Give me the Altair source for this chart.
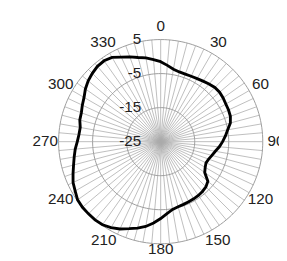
import altair as alt
import numpy as np
import pandas as pd

# ---- data ----
angles = list(range(0, 360, 5))
gain_db = [
    -1.5, -2.5, -3.4, -3.8, -3.9, -3.8, -3.6, -3.3, -2.9, -2.5, -2.4, -2.6,   # 0..55
    -2.9, -3.0, -3.2, -3.8, -5.0, -5.9, -6.8, -7.7, -8.7, -9.4, -10.0, -10.3,  # 60..115
    -9.9, -9.2, -6.9, -6.2, -5.9, -5.7, -5.6, -5.5, -5.4, -5.2, -4.8, -3.8,    # 120..175
    -2.4, -1.0, 0.3, 1.3, 2.2, 3.3, 4.2, 4.8, 5.0, 5.0, 5.0, 4.8,              # 180..235
    4.0, 3.4, 2.4, 1.5, 0.8, 0.2, -0.5, -0.9, -1.0, -0.4, -0.2, 0.4,           # 240..295
    1.0, 2.0, 2.8, 3.4, 3.9, 4.0, 3.6, 2.4, 1.5, 0.6, 0.0, -0.8,               # 300..355
]
ring_values = [-15, -5, 5]
radial_tick_values = [5, -5, -15, -25]
radial_tick_labels = ["5", "-5", "-15", "-25"]
angle_tick_values = list(range(0, 360, 30))
angle_tick_labels = [str(a) for a in angle_tick_values]
spoke_angles = list(range(0, 360, 5))

R_MIN, R_MAX = -25, 5

# ---- layout constants ----
W, H = 284, 253
CX, CY, U = 160, 134, 107
xdom = [-CX / U, (W - CX) / U]
ydom = [-(H - CY) / U, CY / U]
xs = alt.Scale(domain=xdom, nice=False, zero=False)
ys = alt.Scale(domain=ydom, nice=False, zero=False)
FONT = "Liberation Sans"

norm = f"(datum.v - ({R_MIN})) / ({R_MAX} - ({R_MIN}))"
xcalc = "datum.r * sin(datum.a * PI / 180)"
ycalc = "datum.r * cos(datum.a * PI / 180)"


def polar(chart):
    return chart.transform_calculate(r=norm).transform_calculate(x=xcalc, y=ycalc)


X = alt.X("x:Q", scale=xs, axis=None)
Y = alt.Y("y:Q", scale=ys, axis=None)

# spokes
spoke_df = pd.DataFrame(
    [(a, v) for a in spoke_angles for v in (R_MIN, R_MAX)], columns=["a", "v"]
)
spokes = polar(alt.Chart(spoke_df)).mark_line(color="#ababab", strokeWidth=0.8).encode(
    x=X, y=Y, detail="a:N", order="v:Q"
)

# rings
ring_df = pd.DataFrame(
    [(rv, t) for rv in ring_values for t in np.arange(0, 361, 2)], columns=["v", "a"]
)
rings = polar(alt.Chart(ring_df)).mark_line(color="#999999", strokeWidth=1).encode(
    x=X, y=Y, detail="v:N", order="a:Q"
)

# data curve
curve_df = pd.DataFrame({"a": angles, "v": gain_db})
curve = polar(alt.Chart(curve_df)).mark_line(
    color="black", strokeWidth=3, interpolate="linear-closed"
).encode(x=X, y=Y, order="a:Q")

# angle labels
alab_df = pd.DataFrame({"a": angle_tick_values, "label": angle_tick_labels})
alabels = alt.Chart(alab_df).transform_calculate(
    r="1.13 - 0.075 * pow(max(0, -cos(datum.a * PI / 180)), 12)"
).transform_calculate(x=xcalc, y=ycalc).mark_text(
    font=FONT, fontSize=16, color="#222", align="center", baseline="middle"
).encode(x=X, y=Y, text="label:N")

# radial labels
rlab_df = pd.DataFrame({"v": radial_tick_values, "label": radial_tick_labels})
rlabels = alt.Chart(rlab_df).transform_calculate(r=norm).transform_calculate(
    x="-0.19", y="datum.r"
).mark_text(font=FONT, fontSize=16, color="#222", align="right", baseline="middle").encode(
    x=X, y=Y, text="label:N"
)

chart = (
    alt.layer(spokes, rings, curve, alabels, rlabels)
    .properties(width=W, height=H, padding=0, autosize=alt.AutoSizeParams(type="none"))
    .configure_view(stroke=None)
)
chart.save("out.html", embed_options={"renderer": "svg", "actions": False})
